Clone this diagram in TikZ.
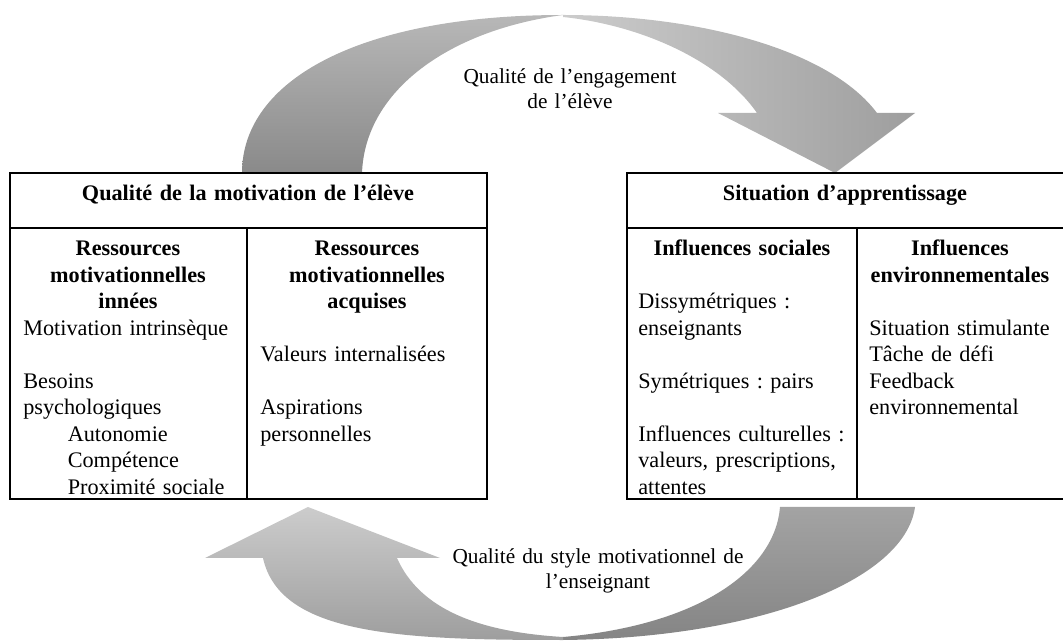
\documentclass[tikz,border=0pt]{standalone}
\usepackage{fontspec}
\setmainfont{Liberation Serif}
\frenchspacing
\begin{document}
\begin{tikzpicture}[x=0.54pt,y=-0.54pt,
    trait/.style={line width=0.7pt},
    corps/.style={anchor=base west,inner sep=0pt,align=left,font=\fontsize{12}{14.3}\selectfont},
    titre/.style={anchor=base,inner sep=0pt,align=center,font=\fontsize{12}{14.3}\selectfont\bfseries},
    legende/.style={anchor=base,inner sep=0pt,align=center,font=\fontsize{11.5}{13.4}\selectfont}]
  \useasboundingbox (0,0) rectangle (1063,641);
  \path[top color=black!28,bottom color=black!46] (242,173) .. controls (242,80) and (360,15) .. (563,15)
    .. controls (450,30) and (365,90) .. (362,173) -- cycle;
  \path[left color=black!20,right color=black!38] (563,15) .. controls (700,15) and (830,50) .. (877,113)
    -- (915,113) -- (835,173) -- (718,113) -- (757,113) .. controls (720,60) and (640,25) .. (563,17) -- cycle;
  \path[top color=black!36,bottom color=black!48] (780,507) -- (915,507) .. controls (905,580) and (760,638) .. (563,640)
    -- (563,637) .. controls (700,625) and (775,570) .. (780,507) -- cycle;
  \path[top color=black!20,bottom color=black!38] (563,640) .. controls (400,640) and (280,635) .. (263,558)
    -- (205,558) -- (308,507) -- (440,558) -- (397,558) .. controls (420,610) and (480,632) .. (563,637) -- cycle;
  \node[legende,text width=150pt] (engagement) at (570,84) {Qualité de l’engagement\\de l’élève};
  \node[legende,text width=180pt] (style) at (598,564) {Qualité du style motivationnel de\\l’enseignant};
  \draw[trait] (10,173) rectangle (487,499);
  \draw[trait] (10,228) -- (487,228);
  \draw[trait] (247,228) -- (247,499);
  \draw[trait] (1063,173) -| (627,499) -- (1063,499);
  \draw[trait] (627,228) -- (1063,228);
  \draw[trait] (857,228) -- (857,499);
  \node[titre,text width=250pt] (motivation) at (248,201) {Qualité de la motivation de l’élève};
  \node[titre,text width=230pt] (situation) at (845,201) {Situation d’apprentissage};
  \node[titre,text width=125pt] (innees) at (128,256) {Ressources\\motivationnelles\\innées};
  \node[corps,text width=125pt] (innees-txt) at (23,335.5) {Motivation intrinsèque\\[14.3pt]Besoins\\psychologiques\\\hspace*{24pt}Autonomie\\\hspace*{24pt}Compétence\\\hspace*{24pt}Proximité sociale};
  \node[titre,text width=125pt] (acquises) at (367,256) {Ressources\\motivationnelles\\acquises};
  \node[corps,text width=125pt] (acquises-txt) at (260,362) {Valeurs internalisées\\[14.3pt]Aspirations\\personnelles};
  \node[titre,text width=120pt] (sociales) at (742,256) {Influences sociales};
  \node[corps,text width=120pt] (sociales-txt) at (638,309) {Dissymétriques :\\enseignants\\[14.3pt]Symétriques : pairs\\[14.3pt]Influences culturelles :\\valeurs, prescriptions,\\attentes};
  \node[titre,text width=110pt] (environ) at (960,256) {Influences\\environnementales};
  \node[corps,text width=110pt] (environ-txt) at (869,335.5) {Situation stimulante\\Tâche de défi\\Feedback\\environnemental};
\end{tikzpicture}
\end{document}
